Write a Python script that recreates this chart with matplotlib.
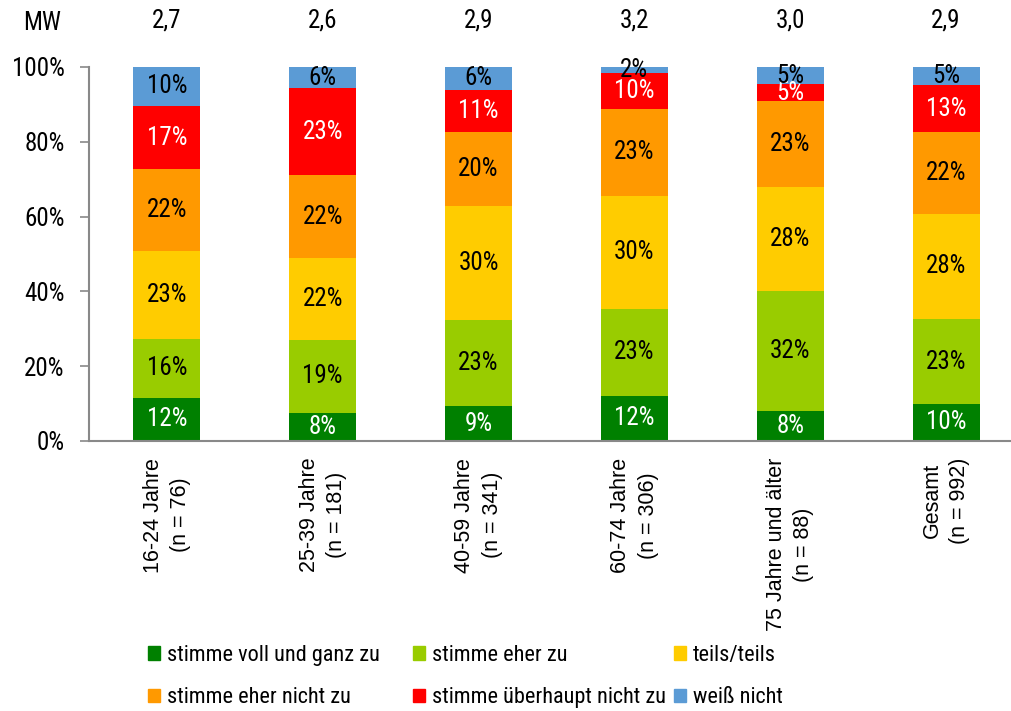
import matplotlib
matplotlib.use('Agg')
import matplotlib.pyplot as plt
from matplotlib.patches import Patch
import numpy as np

# data (percent of respondents)
groups = ['16-24 Jahre\n(n = 76)', '25-39 Jahre\n(n = 181)', '40-59 Jahre\n(n = 341)',
          '60-74 Jahre\n(n = 306)', '75 Jahre und älter\n(n = 88)', 'Gesamt\n(n = 992)']
mw = ['2,7', '2,6', '2,9', '3,2', '3,0', '2,9']
answers = ['stimme voll und ganz zu', 'stimme eher zu', 'teils/teils',
           'stimme eher nicht zu', 'stimme überhaupt nicht zu', 'weiß nicht']
voll = [11.6, 7.6, 9.3, 12.1, 7.9, 9.9]
eher = [15.7, 19.4, 23.1, 23.3, 32.2, 22.7]
teils = [23.4, 21.8, 30.4, 30.2, 27.7, 28.2]
eher_nicht = [21.9, 22.2, 19.9, 23.1, 23.0, 21.7]
gar_nicht = [17.0, 23.3, 11.2, 9.6, 4.6, 12.7]
weiss_nicht = [10.4, 5.7, 6.1, 1.7, 4.6, 4.8]

series = [voll, eher, teils, eher_nicht, gar_nicht, weiss_nicht]
colors = ['#008000', '#99CC00', '#FFCC00', '#FF9900', '#FF0000', '#5B9BD5']
txt_colors = ['white', 'black', 'black', 'black', 'white', 'black']

narrow = ['Roboto Condensed', 'Liberation Sans', 'DejaVu Sans']
arial = ['Liberation Sans', 'DejaVu Sans']

fig = plt.figure(figsize=(10.11, 7.11), dpi=100)
ax = fig.add_axes([89/1011, 1-441/711, 935/1011, 374/711])

x = np.arange(len(groups))
bottom = np.zeros(len(groups))
for vals, col, tc in zip(series, colors, txt_colors):
    vals = np.array(vals)
    ax.bar(x, vals, 0.43, bottom=bottom, color=col, edgecolor='none')
    for xi, b, v in zip(x, bottom, vals):
        ax.text(xi, b + v/2, '%.0f%%' % v, ha='center', va='center',
                color=tc, fontsize=18, family=narrow)
    bottom += vals

ax.set_xlim(-0.5, 5.5)
ax.set_ylim(0, 100)
ax.set_yticks([0, 20, 40, 60, 80, 100])
ax.set_yticklabels(['%d%%' % t for t in [0, 20, 40, 60, 80, 100]], family=narrow, fontsize=18)
ax.tick_params(axis='y', length=6.5, width=1.2, color='#898989', pad=11)
ax.set_xticks(x)
ax.set_xticklabels(groups, rotation=90, ha='center', va='top', family=arial,
                   fontsize=15.5, linespacing=1.4, multialignment='center')
ax.tick_params(axis='x', length=0, pad=12)
for s in ['top', 'right']:
    ax.spines[s].set_visible(False)
for s in ['left', 'bottom']:
    ax.spines[s].set_color('#898989')
    ax.spines[s].set_linewidth(1.5)

# mean values row
for xi, m in zip(x, mw):
    ax.text(xi, 1.125, m, transform=ax.get_xaxis_transform(), ha='center', va='center',
            fontsize=18, family=narrow, clip_on=False)
fig.text(42/1011, 1-23/711, 'MW', ha='center', va='center', fontsize=18, family=narrow)

# legend: three columns at fixed positions, two rows each
handles = [Patch(color=c) for c in colors]
col_x = [148, 413, 674]
for j, cx in enumerate(col_x):
    fig.legend([handles[j], handles[j + 3]], [answers[j], answers[j + 3]],
               loc='upper left', bbox_to_anchor=(cx/1011, 1-645/711), frameon=False,
               borderaxespad=0, borderpad=0, handlelength=0.55, handleheight=0.55,
               handletextpad=0.3, labelspacing=0.95,
               prop={'family': narrow, 'size': 16})

fig.savefig('out.png', dpi=100)
